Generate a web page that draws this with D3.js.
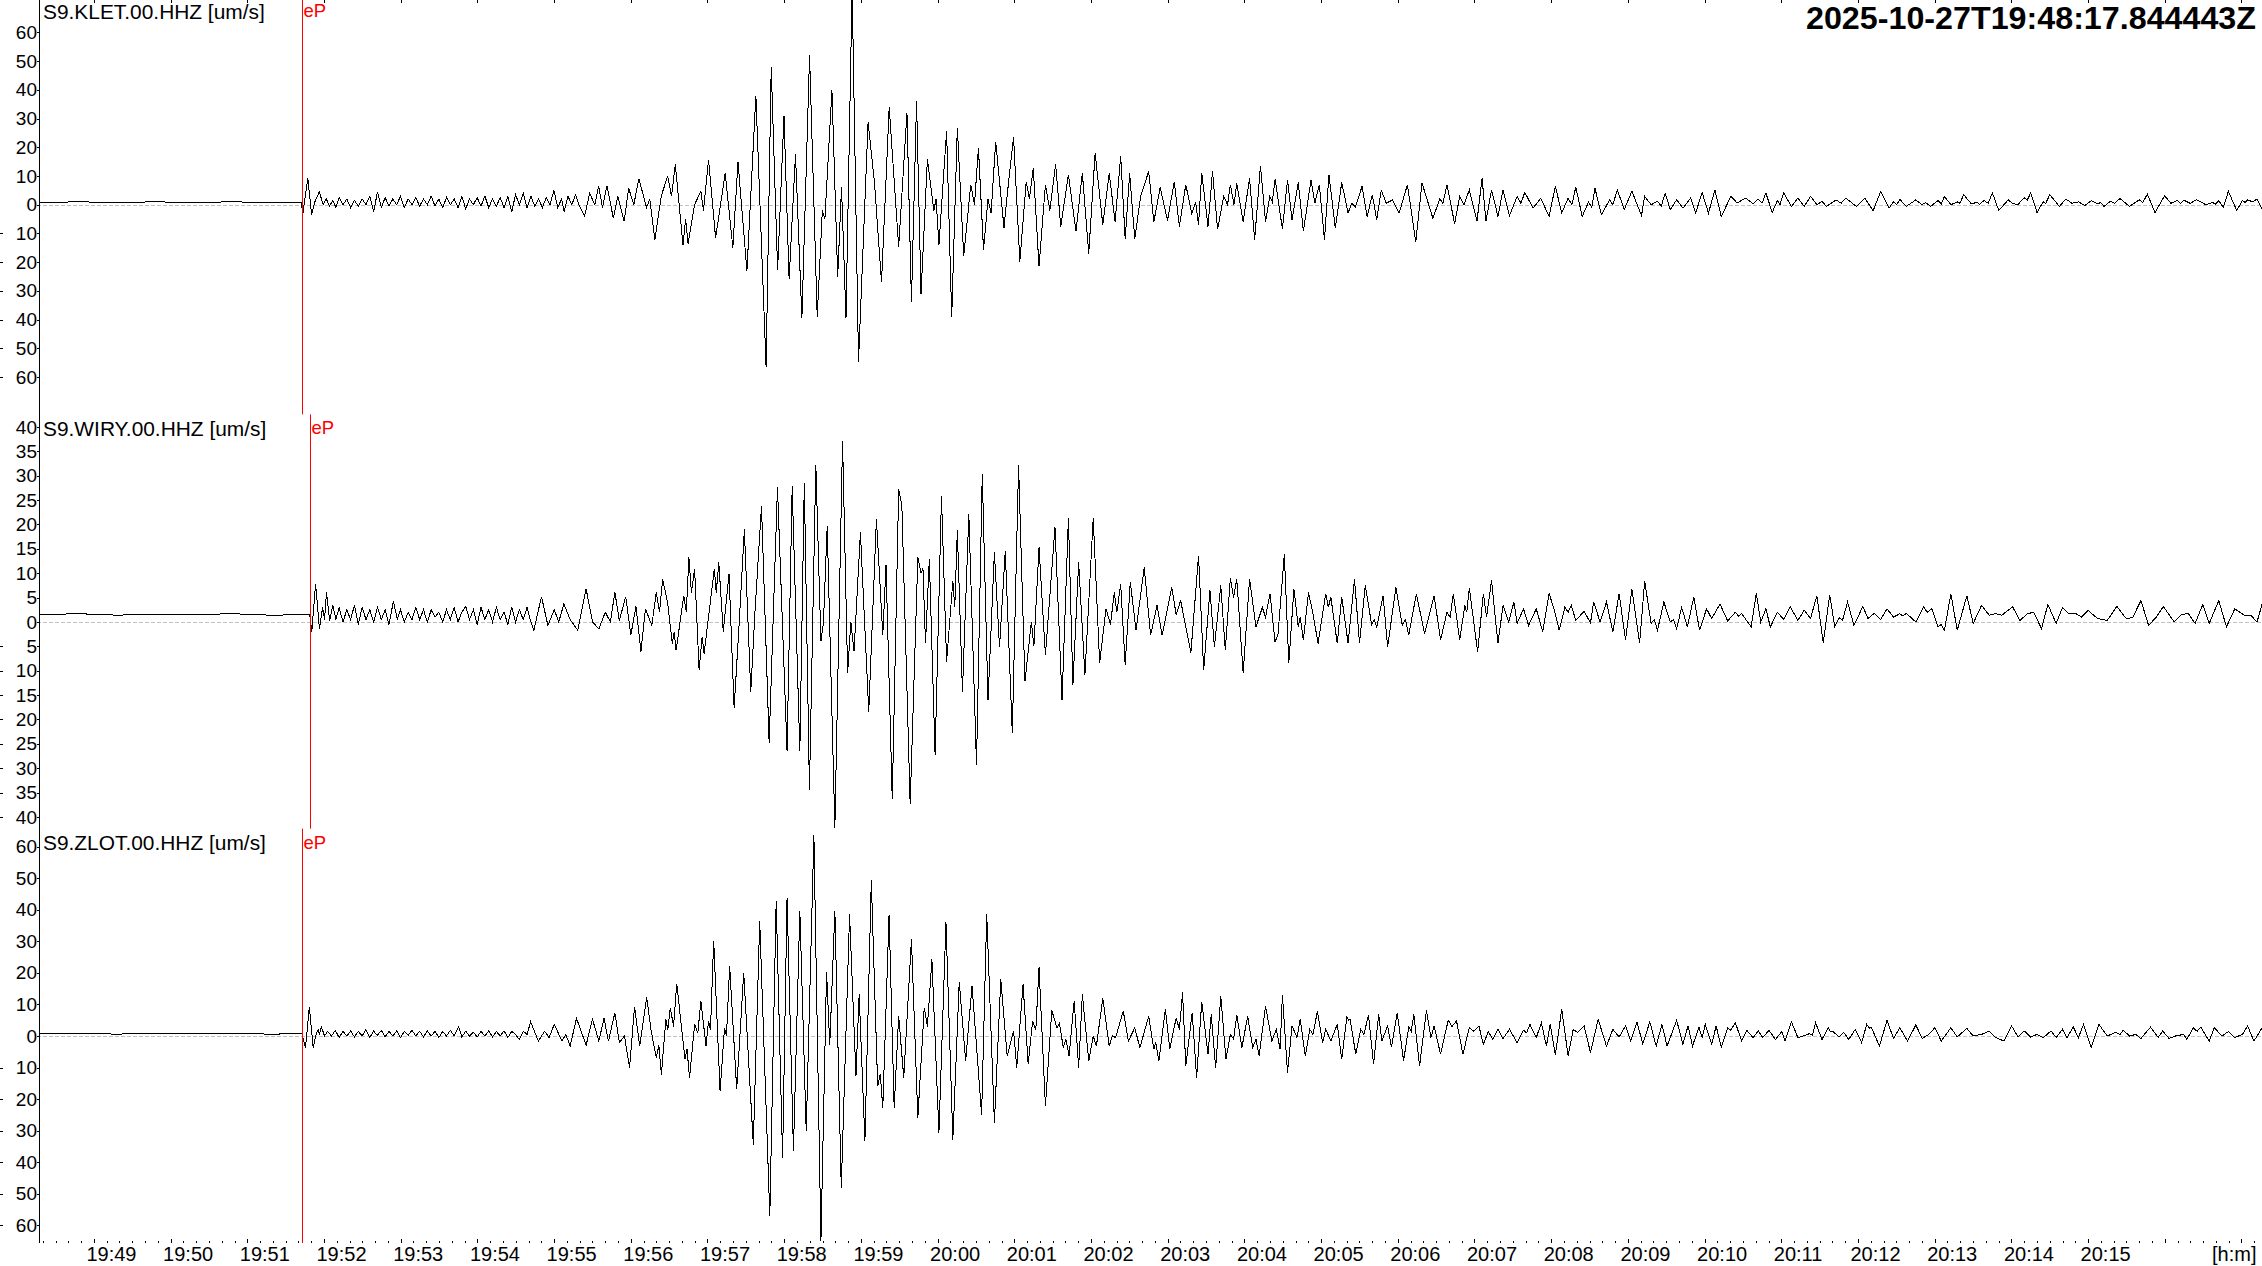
<!DOCTYPE html>
<html>
<head>
<meta charset="utf-8">
<script src="https://cdn.jsdelivr.net/npm/d3@7"></script>
<style>
  body { margin: 0; background: #fff; }
  svg { display: block; font-family: "Liberation Sans", Arial, sans-serif; }
</style>
</head>
<body>
<div class="seismo-container"></div>
<script>
// record start and window length (seconds)
const start_time = Date.UTC(2025, 9, 27, 19, 48, 17, 844);
const window_seconds = 1738.2;
const title_text = '2025-10-27T19:48:17.844443Z';

const station_names = ['S9.KLET.00.HHZ [um/s]', 'S9.WIRY.00.HHZ [um/s]', 'S9.ZLOT.00.HHZ [um/s]'];
const pick_label = 'eP';
// pick times, seconds after start
const pick_times = [204.7, 211.5, 205.2];

// amplitude ranges and ticks per trace
const y_range_klet = [-73, 71.3];
const y_range_wiry = [-42.4, 42.6];
const y_range_zlot = [-65.6, 65.7];
const y_ticks_klet = [-60, -50, -40, -30, -20, -10, 0, 10, 20, 30, 40, 50, 60];
const y_ticks_wiry = [-40, -35, -30, -25, -20, -15, -10, -5, 0, 5, 10, 15, 20, 25, 30, 35, 40];
const y_ticks_zlot = [-60, -50, -40, -30, -20, -10, 0, 10, 20, 30, 40, 50, 60];

const time_labels = ['19:49','19:50','19:51','19:52','19:53','19:54','19:55','19:56','19:57','19:58','19:59',
  '20:00','20:01','20:02','20:03','20:04','20:05','20:06','20:07','20:08','20:09','20:10','20:11','20:12',
  '20:13','20:14','20:15'];
const time_unit = '[h:m]';

// traces: [seconds after start, um/s]
const klet = [
  [0,0.8],[30,1.0],[60,0.8],[90,1.0],[120,0.8],[150,1.0],[180,0.8],[204.5,0.9],
  [205.5,-3.5],[209.5,9.3],[212.5,-3.5],[215,1],[218.5,4.5],[221.5,0],
  [224,2],[226.5,-0.5],[229,1.5],[231.5,-1],[234,2.5],[237,0],[240,2],[243,-1],[246,1.5],[249,-0.5],
  [252,2],[255,0],[258,3],[261,-2.5],[264,4.5],[267,-1],[270,2.5],[273,-0.5],[276,2],[279,0],[282,3],
  [285,-1],[288,2],[291,0],[294,2.5],[297,-0.5],[300,2],[303,0],[306,3],[309,-0.5],[312,2],[315,-1],
  [318,2.5],[321,0],[324,2],[327,-1],[330,3],[333,-1.5],[336,2],[339,0],[342,2.5],[345,-0.5],[348,3],
  [351,-1],[354,2],[357,-0.5],[360,2.5],[363,-1],[366,3],[369,-2.5],[372,3.5],[375,0],[378,4],[381,-1],
  [384,3],[387,-0.5],[390,2],[393,-1],[396,2.5],[399,0],[402,5],[405,-1],[408,2],[410,-2.5],[413,3],
  [416,0],[419,3.5],[422,-0.5],[426,-4],[430,4],[434,0],[437,6.5],[440,-1],[443.5,6.6],[448.5,-4.7],
  [452,3],[457,-5.8],[460.5,5.8],[464.5,0],[468.5,9],[474.5,-1],[477,2],[481,-12.2],[486,3],[491,10],
  [494,3],[497,14],[503,-14],[505,-5],[507,-13.5],[512,0],[517,4.7],[519,-2],[523,15.7],[528.5,-11.6],
  [536,11],[542,-15],[546,15],[553,-23],[560,38],[568,-56.5],[572,48],[577,-22.7],[582,31],[586,-26],
  [591,17.5],[596,-39.6],[602,52],[608,-39],[612,-2],[614,-5],[619.5,40],[624,-25],[627,6],[630.5,-39.6],
  [635.3,76],[640.3,-54.7],[647.8,28.8],[652.8,7.6],[658.3,-27],[664.3,34],[671.7,-14.6],[678.2,32],
  [681.7,-34],[685.7,36],[689.2,-31],[694.2,16],[699.2,-2],[701,2],[703.2,-14],[709.2,25.6],[713.2,-39],
  [717.6,26.8],[722.6,-18],[728.1,7],[731,0],[734.1,19.8],[738.1,-15.7],[741.6,2],[744,-3],[747.6,22],
  [754.1,-8],[757,5],[761.6,23.5],[766.5,-19.8],[771.5,8],[774,2],[777,12.8],[781.5,-21.5],[786.5,7],
  [790,-2],[794.5,14],[798.5,-7.6],[804.5,10.5],[810.4,-9.3],[815.4,11],[820.4,-17],[825.4,18],
  [831.4,-7],[836.4,11],[841,-6],[845.4,17],[848.9,-12],[852.4,11],[856.4,-12],[861,3],[867.3,11.6],
  [871.3,-6],[876.3,6],[882,-5.5],[887.3,8],[891.3,-7.6],[896.3,7],[901,-3],[904,1],[906.3,-7],
  [908.8,11],[913.7,-7.6],[917.2,11.6],[921.2,-8.5],[926,3],[929,0],[931.2,7],[934,0],[936.2,7.5],
  [941.2,-6],[946.2,9.3],[950.2,-12.2],[954.7,13.6],[958.7,-6],[962,3],[964,1],[966.2,9],[971.9,-8.5],
  [975.9,8.7],[979.4,-5.2],[984.3,7.8],[988.3,-9.3],[994.3,8.7],[997.3,0.6],[1000.8,7],[1004.8,-12.2],
  [1008.3,10.5],[1013.3,-8.2],[1018.3,7.8],[1023.3,-2.9],[1026,0.5],[1029,-0.8],[1034.2,6.4],
  [1038.2,-4.1],[1042.2,3.5],[1045.7,-5.2],[1049.2,5],[1053.2,0.5],[1058,1.7],[1063.2,-2.9],[1069.7,7],
  [1076.2,-13],[1081.1,7.6],[1089.6,-4.7],[1095,2],[1097.5,0.5],[1100.6,7],[1106.6,-6.6],[1110.6,2.9],
  [1114,0],[1118.1,5.2],[1124.1,-5.8],[1128.1,9.3],[1131.1,-5.8],[1135.5,5.2],[1140.5,-4.1],[1144.5,5.2],
  [1149.5,-3.8],[1155.5,2.9],[1158.5,0.5],[1161.5,4.3],[1168,-1.2],[1174,2.3],[1180.5,-4.1],[1185.4,6.4],
  [1190.4,-2.9],[1195.4,2.3],[1198.4,0],[1201.4,6.2],[1206.4,-4.1],[1211.4,1],[1213.9,-1],[1216.4,5.8],
  [1221.4,-3.5],[1227.9,1.7],[1230.4,0],[1233.9,5.2],[1239.3,-1.7],[1245.3,4.7],[1252.8,-3.8],
  [1255.3,2.9],[1260.3,0],[1265.3,1.2],[1268.3,-0.5],[1271.3,4],[1275.3,-1.7],[1280.3,1.7],[1285.3,-1.2],
  [1291.2,2.3],[1295.2,-2.9],[1300.2,4.3],[1305.2,-2.9],[1310.2,5.2],[1315.2,-4.1],[1322.7,2.9],
  [1327.7,0.6],[1334.1,2.3],[1340.1,0.4],[1344.1,2],[1347.1,0.5],[1350.1,4.1],[1355.1,-2.7],[1359.1,1.5],
  [1361.1,0],[1364.1,4.1],[1370.1,-0.6],[1375.1,2.3],[1380.1,-0.6],[1385.1,2.9],[1390,0],[1394,1.2],
  [1397.5,-0.6],[1405,1.7],[1409,0.5],[1412.5,2.3],[1421,-0.6],[1427.5,2.3],[1434,-2.1],[1440,4.7],
  [1446.4,-1.2],[1449.9,1],[1452.4,0],[1454.9,1.9],[1459.9,-0.6],[1467.4,1.7],[1472.4,0],[1475,0.8],
  [1478.9,-0.6],[1484.9,1.5],[1487.3,0.3],[1489.8,2.9],[1494.8,0],[1499.8,1],[1502,0.5],[1504.8,3.5],
  [1510.8,0.3],[1515,0.8],[1517.3,0.2],[1520.8,1.5],[1524,0.5],[1527.3,4.1],[1532.3,-2],[1539.7,1.7],
  [1543,0.5],[1547.2,0],[1552.2,2.5],[1554.5,1.5],[1557.2,4.1],[1562.2,-2.7],[1567,1],[1569,0.5],
  [1572.2,3.5],[1579.7,-0.6],[1584.7,2],[1589.6,0.5],[1594.6,1],[1599.6,-0.3],[1604.6,1.4],[1609.6,0.3],
  [1612,0.8],[1614.6,-0.6],[1619.6,1.2],[1623,0.5],[1627.1,2.2],[1634.6,-0.6],[1642.1,1.7],[1645,0.8],
  [1648.5,3.7],[1654.5,-2.7],[1662,3.1],[1667,0.5],[1672,1.5],[1674.5,0.5],[1677,1.6],[1682,0.5],
  [1687,1.7],[1694.4,0],[1699.4,0.8],[1702,0.2],[1704.4,1.5],[1707.9,-1],[1711.9,4.7],[1718.4,-2],
  [1722.9,1.5],[1725,0.8],[1726.9,1.7],[1731,1],[1734.3,2],[1738.3,-1.5]
];

const wiry = [
  [0,1.5],[30,1.7],[60,1.4],[90,1.6],[120,1.5],[150,1.7],[180,1.4],[211,1.5],
  [212.6,-2],[215.6,7.8],[218.6,-1.4],[221.1,3],[222.6,0.5],[224.1,6.1],[226.6,0.3],
  [229,3.5],[231.5,0.5],[234,3],[237,0],[240,2.5],[243,0.5],[246,3.5],[249,-0.5],[252,3],[255,0.5],
  [258,2.5],[261,0],[264,3],[267,0.5],[270,2.5],[273,-0.5],[276.5,4.3],[279.5,0.5],[282,2.5],[285,0],
  [288,2],[291,0.5],[294,3],[297,0.5],[300,2.5],[303,0],[306,2.5],[309,1],[312,2],[315,0],[318,2.5],
  [321,0.5],[324,3],[327,0],[330,2],[333,3.2],[336,0.5],[339,2.5],[342,-0.5],[345,3],[348,0.5],[351,2.5],
  [354,0],[357,3],[360,0.5],[363,2],[366,-0.5],[369,3],[372,0],[375,2.5],[378,0.5],[381,3],[384,0],
  [386.3,-1.7],[392.3,5.2],[397.3,-0.7],[402.3,2.5],[405.8,0],[409.8,3.7],[414.7,0.5],[420.7,-1.7],
  [427.2,6.8],[432.2,0],[437.2,-1.4],[442.2,2],[446.2,0],[449.7,6.1],[453.2,0.3],[458.2,5.2],[462.2,-2.7],
  [466.2,3.2],[470.1,-6.1],[473.6,2.7],[478.6,-0.7],[482.1,6.1],[484.6,2],[487.1,8.8],[491.1,3.7],
  [494.6,-4.4],[496.1,-2],[497.6,-5.8],[503.6,5.4],[505.6,2],[507.6,13.3],[509.6,6],[512.1,10.9],
  [515.6,-9.9],[518,-3],[519.5,-6.5],[527.5,10.9],[529,6],[531,12.2],[534.5,-2],[539,9.9],[543,-17.7],
  [547,0],[551,19],[556,-14.3],[559.5,3],[564.4,23.8],[570.4,-24.8],[576.9,27.7],[584.4,-26.5],
  [588.4,27.9],[594.4,-26.5],[597.9,28.6],[601.9,-34.4],[606.9,32.3],[610.9,-4],[612.9,0],[615.8,19.7],
  [621.8,-42.2],[627.8,37.2],[631.8,-10.5],[634.3,0],[636.8,-6],[641.8,18.4],[648.3,-18.4],[654.3,21.1],
  [659.3,-2.7],[661.8,11.6],[666.7,-36.4],[671.7,27.2],[674.2,24],[680.7,-37.4],[686.7,13.3],[689.2,10],
  [690.7,11],[692.7,-4.4],[695.7,12.9],[700.2,-27.2],[705.2,25.9],[709.2,-8.2],[714.1,8.5],[715.6,3],
  [717.6,18.8],[721.6,-14.3],[726.6,22.1],[732.6,-29.3],[737.1,30.4],[741.6,-16],[746.6,14.3],
  [750.6,-5.1],[755.1,14.6],[760.6,-22.8],[765.5,32.2],[770.5,-12.2],[775.5,0],[777.5,-5],[781.5,15.3],
  [786.5,-6.8],[794,19.4],[799.5,-16],[804.5,21.4],[808,-12.9],[812.5,12.2],[817.4,-10.9],[823.9,21.4],
  [828.9,-8.4],[833.9,2.7],[837.4,-0.5],[840.4,6.1],[842.4,2],[845.4,7.8],[848.9,-8.8],[852.9,8.2],
  [857.4,-1.7],[863.8,11.2],[868.8,-2.7],[873.8,3.4],[877.8,-2.7],[885.3,7.1],[888.8,1.5],[892.3,4.4],
  [900.3,-6.3],[906.3,13.6],[910.3,-9.9],[915.2,6.5],[918.7,-5.1],[923.7,7.5],[927.2,-5.8],[931.2,9],
  [933.7,5],[936.2,8.8],[941.2,-10.5],[946.2,8.8],[951.2,-1],[956.2,3],[958.7,1],[962.2,5.8],
  [966.1,-4.1],[968.4,-2.7],[973.4,13.9],[976.9,-8.5],[980.9,6.8],[984.3,-1],[985.8,1],[988.3,-3.7],
  [992.3,6.1],[995.8,1.7],[999.8,-4.4],[1005.8,5.8],[1007.8,3],[1009.8,5.1],[1014.8,-4.4],[1018.3,5.1],
  [1023.3,-4.4],[1028.3,8.8],[1032.2,-4.4],[1036.7,7.5],[1041.7,-0.5],[1043.7,0.5],[1045.7,-1],
  [1050.7,5.4],[1054.2,-5.1],[1060.7,7.1],[1065.7,-0.7],[1068.2,0.5],[1070.7,-2.7],[1076.7,5.8],
  [1083.1,-2.4],[1090.6,5.4],[1095.6,-3.7],[1100.6,2],[1103.1,1],[1105.6,5.8],[1110.6,-3.7],[1114.6,3.4],
  [1116.1,2],[1118.1,7],[1124.6,-6.1],[1129.1,5.8],[1131.6,1],[1135.5,8.5],[1140.5,-4.4],[1144.5,3.4],
  [1149,0],[1153,4.1],[1155.5,-0.3],[1160.5,2.7],[1164.5,-0.7],[1170.5,2.7],[1175.5,-2],[1180.5,5.9],
  [1185.4,1.7],[1188.4,-1.7],[1192.9,3.1],[1195.4,2],[1197.9,3.4],[1201.4,0.3],[1207.9,2.2],[1212.9,-0.2],
  [1215.4,4.1],[1220.4,0],[1225.4,4.1],[1230.4,-2],[1235.3,5.8],[1240.3,-3.7],[1245.3,6.8],[1251.3,-4.4],
  [1255.3,8.4],[1260.3,-0.3],[1262.8,0.5],[1265.3,-1.7],[1270.3,4.1],[1275.3,0],[1277.8,0.5],
  [1280.3,-1.4],[1284.2,3],[1288.7,-1],[1293.7,5.1],[1298.2,-1.7],[1303.7,2.7],[1307.7,0.7],[1314.2,3.7],
  [1320.2,0.2],[1326.2,2],[1328.7,1.2],[1331.2,1.7],[1338.6,-1],[1342.6,5.9],[1346.1,0],[1350.1,2.7],
  [1353.6,-1],[1359.1,2],[1364.1,0.5],[1369.1,3.2],[1375.1,0.3],[1380.1,2.4],[1385,0.7],[1390,5.4],
  [1395,-4.3],[1400,5.6],[1404,-1],[1407.5,0.9],[1410,0.3],[1414,4.1],[1419,-0.7],[1426,3.2],[1430,0.7],
  [1434.9,1.8],[1439.9,0.5],[1444.9,2.7],[1449.9,1],[1454.9,1.7],[1457.4,1.2],[1459.9,1.8],[1467.4,0],
  [1473.4,3.1],[1476.4,2],[1479.9,2.7],[1484.8,-1],[1487.3,-0.5],[1489.8,-1.7],[1494.8,5.8],[1499.8,-1.7],
  [1507.3,5.4],[1512.3,-0.3],[1518.8,3.4],[1524.8,1.4],[1529.8,1.7],[1534.7,1.4],[1543.2,3.1],
  [1548.7,0.3],[1554.7,1.7],[1559.7,2],[1565.7,-1.4],[1570.7,3.6],[1577.2,-0.3],[1582.1,2.9],
  [1587.1,1.7],[1592.1,1.8],[1597.1,1],[1602.1,2.4],[1609.6,0.7],[1617.1,0.3],[1624.6,3.2],[1632,0.7],
  [1637,0.9],[1643.5,4.4],[1649.5,-0.7],[1655.5,1],[1661,3.2],[1669.5,0],[1674.5,1.4],[1680.4,1.8],
  [1685.9,-0.3],[1691.9,3.6],[1696.9,-0.3],[1704.4,4.4],[1710.4,-1],[1716.9,2.7],[1724.4,1.4],
  [1729.4,1.4],[1734.3,0],[1738.3,3.7]
];

const zlot = [
  [0,0.7],[30,0.8],[60,0.6],[90,0.8],[120,0.7],[150,0.8],[180,0.6],[205,0.7],
  [207.7,-3.7],[210.7,9.2],[213.7,-3.7],[215.6,0],[217.6,2.1],[218.6,0.5],[220.1,2.9],[222.6,0],
  [225,1.5],[228,0],[231,1.8],[234,-0.5],[237,1.5],[240,0],[243,1.6],[246,-0.3],[249,1.5],[252,0],
  [255,2],[258,-0.5],[261,1.5],[264,0.2],[267,1.8],[270,-0.3],[273,1.5],[276,0],[279,1.6],[282,-0.5],
  [285,1.5],[288,0.2],[291,1.8],[294,0],[297,1.5],[300,-0.3],[303,1.6],[306,0],[309,1.5],[312,-0.5],
  [315,1.4],[318,0],[321,1.8],[324,0],[327.4,2.9],[330,-0.3],[333,1.5],[336,0],[339,1.2],[342,-0.3],
  [345,1.5],[348,0],[351,1.6],[354,-0.3],[357,1.4],[360,0],[363,1.6],[366,-0.5],[369,1.5],[372,0.5],
  [374.8,-1.1],[378,1.5],[381,0.5],[383.8,4.5],[389.8,-1.6],[394.8,1.5],[398.3,-0.5],[402.3,3.7],
  [408.3,-1.6],[411.3,0.5],[414.7,-3.2],[419.7,5.6],[427.2,-2.9],[432.2,5.3],[437.2,-1.6],[441.2,5.6],
  [444.7,-1.6],[449.7,7.4],[453.2,-2.1],[457.2,0],[461.2,-10],[465.1,9.3],[469.1,-3.2],[474.6,12.2],
  [478.1,1.6],[482.1,-6.9],[484.1,-3],[486.1,-12.2],[489.6,5.3],[491.1,2],[493.1,9],[495.6,3],
  [498.1,16.6],[504.6,-7.4],[506.1,-4],[508.1,-13.2],[512.1,3.7],[514.6,1],[517,11.1],[521,-3.2],
  [523,4.8],[524.5,2],[527,30.2],[532,-17.5],[535.5,2.6],[537,0],[539.5,22.2],[545,-16.9],[550.5,20.1],
  [558,-34.4],[563,36.5],[570.9,-57],[575.9,42.9],[580.9,-38.6],[584.4,43.6],[589.4,-36.3],[594.4,39.7],
  [599.4,-30.2],[605.4,63.8],[610.9,-65],[615.3,20.4],[617.8,-3],[621.8,39.7],[626.8,-48.1],[633.3,38.6],
  [638.3,-12.7],[640.8,13.2],[645.3,-33.3],[650.3,49.4],[655.3,-15.9],[657.3,-12],[659.3,-22.8],
  [664.2,38.4],[668.2,-22.8],[671.7,6.3],[675.7,-13.2],[681.7,30.7],[686.7,-25.9],[691.7,9],[694.2,3],
  [697.7,24.3],[703.2,-30.7],[708.7,36],[714.1,-32.8],[719.1,17.2],[724.1,-7.9],[729.1,15.9],
  [736.6,-24.9],[740.6,38.6],[746.6,-27.5],[751.6,18],[756.6,-6.3],[761.6,1.6],[764.1,-10],[769,16.4],
  [773,-9],[776.5,4.8],[779,2],[781.5,21.7],[786.5,-22.2],[791.5,8.1],[795.5,2.6],[797.5,4],[800.5,-3.7],
  [802.5,-1],[805,-6.3],[809,11.1],[812.5,-10],[815.4,13.2],[820.4,-7.9],[823.9,0],[826.4,-3.2],
  [831.4,12],[836.4,-3.2],[838.9,0],[841.4,-0.5],[847.4,7.9],[851.4,-1.6],[856.4,2.6],[860.4,-3.7],
  [867.3,6.3],[871.3,-4.2],[872.8,-2],[875.3,-7.9],[880.3,8.5],[883.8,-4.2],[888.8,5.8],[891.3,2],
  [893.8,13.8],[896.3,-9.5],[901.3,7.4],[904.8,-13.2],[908.8,10.9],[913.7,-5.8],[916.2,6.9],[919.7,-10],
  [923.7,12.7],[927.7,-7.4],[931.2,0.5],[933.7,-1],[936.2,6.7],[940.2,-3.7],[944.7,6.3],[948.7,-3.7],
  [951.2,-1],[953.7,-6.3],[958.7,9.5],[963.7,-1.6],[967.1,2.1],[970.1,-4.2],[971.9,13],[975.9,-11.6],
  [979.4,3.2],[983.3,-0.5],[985.8,5.3],[989.8,-6.3],[993.3,2.1],[995.8,0.5],[999.3,7.9],[1003.3,-2.1],
  [1005.8,2.1],[1009.8,-1.6],[1014.8,3.7],[1018.3,-7.4],[1022.3,6],[1023.8,5],[1024.8,5.3],[1029.3,-5.8],
  [1033.2,2.1],[1035.7,0.5],[1039.2,6.7],[1043.2,-9],[1047.2,6.9],[1049.7,-1.6],[1054.2,3.2],
  [1057.2,-3.5],[1061.7,7.4],[1066.7,-7.9],[1070.7,2.8],[1072.7,1.5],[1074.7,6.9],[1079.2,-9.5],
  [1084.6,8.1],[1088.1,-0.5],[1090.6,3.2],[1095.6,-5.8],[1101.6,5],[1104.6,3],[1108.1,4.8],[1113.1,-5.8],
  [1118.1,2.6],[1121.6,1.5],[1125.6,3.2],[1129.1,-2.6],[1133,1.4],[1136.5,-1.1],[1140.5,2.1],
  [1144.5,-0.8],[1149.5,2.1],[1155.5,-2.1],[1160.5,1.8],[1163,1],[1165.5,3.7],[1170.5,-0.5],[1174.5,4.2],
  [1178.4,-3.2],[1181.4,3.7],[1185.4,-6.1],[1190.4,8.5],[1195.4,-6.3],[1199.4,2.1],[1202.9,1.1],
  [1207.9,3.2],[1212.9,-5.3],[1218.9,5.3],[1225.4,-3.2],[1230.4,2.1],[1235.3,-0.3],[1240.3,3.2],
  [1244.3,-1.6],[1249.3,4.5],[1253.8,-2.6],[1259.3,4.5],[1264.3,-3.2],[1268.8,3.7],[1272.8,-3.2],
  [1280.3,5],[1285.2,-2.6],[1289.2,3.2],[1292.7,-3.2],[1297.7,2.8],[1300.2,-0.5],[1302.7,3.7],
  [1307.7,-2.6],[1311.2,3.2],[1315.2,-3.5],[1320.2,2.6],[1322.7,1.8],[1326.2,4.2],[1331.2,-1.6],
  [1335.1,1.8],[1340.1,-0.5],[1344.1,1.6],[1347.6,-0.5],[1352.6,1.8],[1357.6,-1.1],[1362.6,1.4],
  [1365.1,-1.6],[1370.1,4.5],[1375.1,-0.5],[1379.1,0],[1384,0.7],[1386.5,0.3],[1389,4.2],[1394,-1.1],
  [1399,2.6],[1400.5,1.5],[1402.5,1.4],[1407.5,-0.3],[1411,1.1],[1415,-1.1],[1420,2.1],[1425,-2.1],
  [1429,3.7],[1431,2.5],[1432.4,2.9],[1438.9,-3.2],[1444.9,5],[1449.9,-0.8],[1454.9,2.6],[1460.9,-1.6],
  [1467.4,3.5],[1472.4,-0.8],[1477.4,0.5],[1482.3,2.6],[1487.3,-1.6],[1494.8,2.6],[1499.8,-0.3],
  [1507.3,2.4],[1512.3,0],[1518.8,0.5],[1524.8,1.6],[1529.8,-0.5],[1536.3,-1.6],[1542.3,3.2],
  [1547.3,-0.3],[1552.2,1.6],[1557.2,-0.3],[1562.2,0.5],[1567.2,-0.5],[1573.2,1.6],[1577.2,-0.5],
  [1582.1,2.1],[1585.6,-0.5],[1590.6,2.8],[1594.6,-0.5],[1598.6,3.7],[1604.6,-3.7],[1610.6,3.7],
  [1617.1,0],[1623.6,1.1],[1627.1,0.5],[1629.6,1.8],[1634.6,0],[1639.5,0.5],[1643.5,-0.8],[1651,2.8],
  [1657,-0.5],[1660.5,1.6],[1665.5,-0.8],[1670.5,0],[1676.9,0.5],[1679.4,-1.1],[1684.4,2.6],[1687.4,1.5],
  [1690.4,2.8],[1696.9,-1.6],[1700.9,2.6],[1706.9,0],[1711.9,1.4],[1716.9,-0.5],[1722.9,0.5],
  [1726.9,3.2],[1731.9,-1.6],[1738.3,2.6]
];

// ---- layout ----
const svg_width = 2262;
const svg_height = 1266;
const margin = {top: 0, right: 0, bottom: 23, left: 40};
const plot_bottom = svg_height - margin.bottom;
const panel_height = (plot_bottom - margin.top) / 3;

const panels = [
  {name: station_names[0], trace: klet, range: y_range_klet, ticks: y_ticks_klet, pick: pick_times[0]},
  {name: station_names[1], trace: wiry, range: y_range_wiry, ticks: y_ticks_wiry, pick: pick_times[1]},
  {name: station_names[2], trace: zlot, range: y_range_zlot, ticks: y_ticks_zlot, pick: pick_times[2]}
];

const to_date = s => new Date(start_time + s * 1000);

const svg = d3.select('.seismo-container')
  .append('svg')
  .attr('width', svg_width)
  .attr('height', svg_height);

const x_scale = d3.scaleUtc()
  .domain([to_date(0), to_date(window_seconds)])
  .range([margin.left, svg_width - margin.right]);

panels.forEach((p, i) => {
  const top = margin.top + i * panel_height;
  const y_scale = d3.scaleLinear().domain(p.range).range([top + panel_height, top]);

  // zero line
  svg.append('line')
    .attr('x1', margin.left - 3).attr('x2', svg_width)
    .attr('y1', Math.round(y_scale(0)) + 0.5).attr('y2', Math.round(y_scale(0)) + 0.5)
    .attr('stroke', '#c0c0c0').attr('stroke-dasharray', '4,2');

  // y axis
  const y_axis = d3.axisLeft(y_scale)
    .tickValues(p.ticks)
    .tickFormat(d => Math.abs(d))
    .tickSizeInner(3).tickSizeOuter(0).tickPadding(0);
  const y_group = svg.append('g')
    .attr('transform', `translate(${margin.left}, 0)`)
    .style('shape-rendering', 'crispEdges')
    .call(y_axis);
  y_group.select('.domain').remove();
  y_group.selectAll('.tick text')
    .attr('fill', '#000')
    .style('font-size', '19px')
    .style('font-family', '"Liberation Sans", Arial, sans-serif');
  y_group.selectAll('.tick line').attr('stroke', '#000');
  // minus marks at far left for negative values
  y_group.selectAll('.tick')
    .filter(d => d < 0)
    .append('line')
    .attr('x1', -margin.left).attr('x2', -margin.left + 3)
    .attr('stroke', '#000');

  // trace
  const line_generator = d3.line()
    .x(d => x_scale(to_date(d[0])))
    .y(d => y_scale(d[1]));
  svg.append('path')
    .attr('class', 'trace')
    .attr('d', line_generator(p.trace))
    .attr('fill', 'none')
    .attr('stroke', '#000')
    .attr('stroke-width', 1)
    .style('shape-rendering', 'crispEdges');

  // pick line + label
  const px = Math.round(x_scale(to_date(p.pick))) + 0.5;
  svg.append('line')
    .attr('x1', px).attr('x2', px)
    .attr('y1', top).attr('y2', top + panel_height)
    .attr('stroke', '#ff0000').attr('stroke-width', 1);
  svg.append('text')
    .attr('x', px + 1).attr('y', top + (i === 0 ? 17 : 20))
    .attr('fill', '#ff0000')
    .style('font-size', '18.5px')
    .text(pick_label);

  // station label
  svg.append('text')
    .attr('x', margin.left + 3).attr('y', top + (i === 0 ? 18.5 : 21.5))
    .attr('fill', '#000')
    .style('font-size', '20.9px')
    .text(p.name);
});

// left axis line
svg.append('line')
  .attr('x1', margin.left - 0.5).attr('x2', margin.left - 0.5)
  .attr('y1', 0).attr('y2', plot_bottom)
  .attr('stroke', '#000');

// time axis, minor ticks every 10 s
const minor_axis = d3.axisBottom(x_scale)
  .ticks(d3.utcSecond.every(10))
  .tickFormat('')
  .tickSizeInner(-2).tickSizeOuter(0);
const minor_group = svg.append('g')
  .attr('transform', `translate(0, ${plot_bottom})`)
  .style('shape-rendering', 'crispEdges')
  .call(minor_axis);
minor_group.select('.domain').remove();

const fmt = d3.utcFormat('%H:%M');
const major_axis = d3.axisBottom(x_scale)
  .ticks(d3.utcMinute.every(1))
  .tickFormat(d => time_labels.includes(fmt(d)) ? fmt(d) : '')
  .tickSizeInner(-4).tickSizeOuter(0);
const major_group = svg.append('g')
  .attr('transform', `translate(0, ${plot_bottom})`)
  .style('shape-rendering', 'crispEdges')
  .call(major_axis);
major_group.select('.domain').remove();
major_group.selectAll('.tick line').attr('stroke', '#000');
major_group.selectAll('.tick text')
  .attr('y', 18).attr('dy', 0)
  .attr('dx', -8)
  .attr('text-anchor', 'start')
  .attr('fill', '#000')
  .style('font-size', '20px')
  .style('font-family', '"Liberation Sans", Arial, sans-serif');

svg.append('text')
  .attr('x', svg_width - 50).attr('y', plot_bottom + 18)
  .attr('fill', '#000')
  .style('font-size', '20px')
  .text(time_unit);

// ticks along the top edge
const top_axis = d3.axisTop(x_scale)
  .ticks(d3.utcMinute.every(1))
  .tickFormat('')
  .tickSizeInner(-3).tickSizeOuter(0);
const top_group = svg.append('g')
  .attr('transform', `translate(0, ${margin.top})`)
  .style('shape-rendering', 'crispEdges')
  .call(top_axis);
top_group.select('.domain').remove();

// header
svg.append('text')
  .attr('x', 1806).attr('y', 28.5)
  .attr('textLength', 450)
  .attr('lengthAdjust', 'spacingAndGlyphs')
  .attr('fill', '#000')
  .style('font-size', '32px')
  .style('font-weight', 'bold')
  .text(title_text);
</script>
</body>
</html>
